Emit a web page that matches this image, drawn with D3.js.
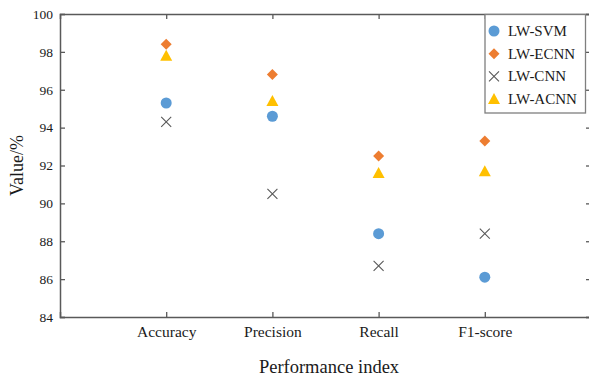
<!DOCTYPE html>
<html>
<head>
<meta charset="utf-8">
<script src="https://cdn.jsdelivr.net/npm/d3@7"></script>
<style>
  body { margin: 0; background: #fff; }
  text { font-family: "Liberation Serif", "Times New Roman", serif; fill: #1a1a1a; }
</style>
</head>
<body>
<svg id="chart" width="589" height="378"></svg>
<script>
var categories = ["Accuracy", "Precision", "Recall", "F1-score"];
var seriesNames = ["LW-SVM", "LW-ECNN", "LW-CNN", "LW-ACNN"];
var svmValues = [95.3, 94.6, 88.4, 86.1];
var ecnnValues = [98.4, 96.8, 92.5, 93.3];
var cnnValues = [94.3, 90.5, 86.7, 88.4];
var acnnValues = [97.8, 95.4, 91.6, 91.7];
var yTicks = [84, 86, 88, 90, 92, 94, 96, 98, 100];

(function() {
var series = [
  { name: seriesNames[0], values: svmValues, color: "#5b9bd5", shape: "circle" },
  { name: seriesNames[1], values: ecnnValues, color: "#ed7d31", shape: "diamond" },
  { name: seriesNames[2], values: cnnValues, color: "#595959", shape: "cross" },
  { name: seriesNames[3], values: acnnValues, color: "#ffc000", shape: "triangle" }
];

var svg = d3.select("#chart");
var margin = { left: 60, right: 591, top: 14, bottom: 317 };
var axisColor = "#595959";

var x = d3.scaleLinear().domain([0, 5]).range([margin.left, margin.right]);
var y = d3.scaleLinear().domain([84, 100]).range([margin.bottom, margin.top]);

function styleAxis(g) {
  g.selectAll("line").attr("stroke", axisColor).attr("stroke-width", 1.3);
  g.select(".domain").attr("stroke", axisColor).attr("stroke-width", 1.5);
  g.selectAll("text").attr("font-family", "Liberation Serif").attr("fill", "#1a1a1a");
}

svg.append("g")
  .attr("transform", "translate(0," + margin.bottom + ")")
  .call(d3.axisBottom(x).tickValues([1, 2, 3, 4]).tickSize(-5).tickPadding(9)
    .tickFormat(function(d) { return categories[d - 1]; }))
  .call(styleAxis)
  .call(function(g) { g.selectAll("text").attr("font-size", 15.5); });

svg.append("g")
  .attr("transform", "translate(0," + margin.top + ")")
  .call(d3.axisTop(x).tickValues([1, 2, 3, 4]).tickSize(-5).tickFormat(""))
  .call(styleAxis);

svg.append("g")
  .attr("transform", "translate(" + margin.left + ",0)")
  .call(d3.axisLeft(y).tickValues(yTicks).tickSize(-5).tickPadding(7))
  .call(styleAxis)
  .call(function(g) { g.selectAll("text").attr("font-size", 13.5); });

svg.append("g")
  .attr("transform", "translate(" + margin.right + ",0)")
  .call(d3.axisRight(y).tickValues(yTicks).tickSize(-5).tickFormat(""))
  .call(styleAxis);

function drawMarker(g, shape, color) {
  if (shape === "circle") {
    g.append("circle").attr("r", 5.5).attr("fill", color);
  } else if (shape === "diamond") {
    g.append("path").attr("d", "M0,-5.5L5.5,0L0,5.5L-5.5,0Z").attr("fill", color);
  } else if (shape === "triangle") {
    g.append("path").attr("d", "M0,-6L6,5L-6,5Z").attr("fill", color);
  } else {
    g.append("path").attr("d", "M-5,-5L5,5M-5,5L5,-5")
      .attr("stroke", color).attr("stroke-width", 1.1).attr("fill", "none");
  }
}

series.forEach(function(s) {
  s.values.forEach(function(v, i) {
    var g = svg.append("g").attr("transform", "translate(" + x(i + 1) + "," + y(v) + ")");
    drawMarker(g, s.shape, s.color);
  });
});

// axis titles
svg.append("text")
  .attr("transform", "translate(23," + ((margin.top + margin.bottom) / 2) + ") rotate(-90)")
  .attr("text-anchor", "middle")
  .attr("font-size", 18)
  .text("Value/%");

svg.append("text")
  .attr("x", 329)
  .attr("y", 373)
  .attr("text-anchor", "middle")
  .attr("font-size", 18.5)
  .text("Performance index");

// legend
var legend = svg.append("g");
legend.append("rect")
  .attr("x", 485).attr("y", 14.5).attr("width", 100.5).attr("height", 98.5)
  .attr("fill", "#fff").attr("stroke", "#7f7f7f").attr("stroke-width", 1.3);
series.forEach(function(s, i) {
  var ly = 31 + i * 22.7;
  var g = legend.append("g").attr("transform", "translate(494," + ly + ")");
  drawMarker(g, s.shape, s.color);
  legend.append("text")
    .attr("x", 508).attr("y", ly + 5)
    .attr("font-size", 15)
    .text(s.name);
});
})();
</script>
</body>
</html>
